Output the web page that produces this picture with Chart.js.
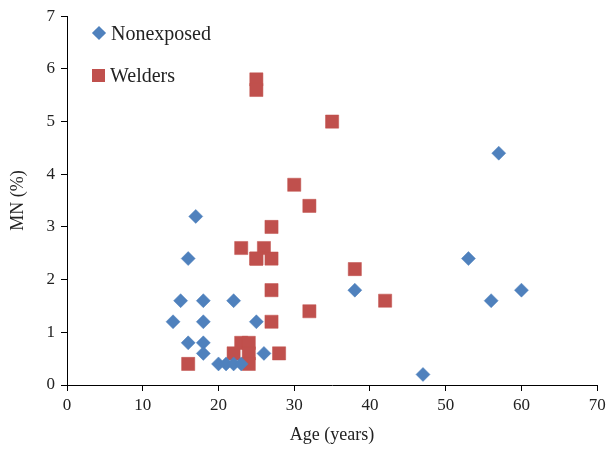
<!DOCTYPE html>
<html>
<head>
<meta charset="utf-8">
<script src="https://cdn.jsdelivr.net/npm/chart.js@4/dist/chart.umd.min.js"></script>
<style>
  html, body { margin: 0; padding: 0; background: #fff; }
  #wrap { position: relative; width: 607px; height: 450px; }
  #legend { position: absolute; left: 92px; top: 18px; font-family: "Liberation Serif", serif; font-size: 20px; color: #222; }
  #legend .item { display: flex; align-items: center; height: 30px; margin-bottom: 12px; }
  #legend .mk { display: inline-block; margin-right: 5px; }
</style>
</head>
<body>
<div id="wrap">
  <canvas id="chart" width="607" height="450"></canvas>
  <div id="legend"></div>
</div>
<script>
// ── data ──
const nonexposedAge = [14, 15, 16, 16, 17, 18, 18, 18, 18, 20, 21, 22, 23, 22, 25, 26, 38, 47, 53, 56, 57, 60];
const nonexposedMN  = [1.2, 1.6, 2.4, 0.8, 3.2, 1.6, 1.2, 0.8, 0.6, 0.4, 0.4, 0.4, 0.4, 1.6, 1.2, 0.6, 1.8, 0.2, 2.4, 1.6, 4.4, 1.8];
const weldersAge = [16, 22, 23, 24, 24, 24, 23, 25, 26, 25, 27, 27, 27, 27, 28, 30, 32, 32, 25, 25, 35, 38, 42];
const weldersMN  = [0.4, 0.6, 0.8, 0.8, 0.6, 0.4, 2.6, 2.4, 2.6, 5.8, 3.0, 2.4, 1.8, 1.2, 0.6, 3.8, 3.4, 1.4, 5.6, 2.4, 5.0, 2.2, 1.6];
const xTicks = [0, 10, 20, 30, 40, 50, 60, 70];
const yTicks = [0, 1, 2, 3, 4, 5, 6, 7];

const BLUE = '#4F81BD', RED = '#C0504D';
const FONT = '"Liberation Serif", serif';

const toPts = (xs, ys) => xs.map((x, i) => ({ x: x, y: ys[i] }));

const datasets = [
  { label: 'Nonexposed', data: toPts(nonexposedAge, nonexposedMN), pointStyle: 'rectRot',
    pointRadius: 7, backgroundColor: BLUE, borderColor: BLUE, borderWidth: 0.5 },
  { label: 'Welders', data: toPts(weldersAge, weldersMN), pointStyle: 'rect',
    pointRadius: 9.3, backgroundColor: RED, borderColor: RED, borderWidth: 0.5 }
];

const axisCommon = {
  grid: { display: true, drawOnChartArea: false, drawTicks: true, tickLength: 6, color: '#000', lineWidth: 1 },
  border: { display: true, color: '#000', width: 1 },
  ticks: { color: '#222', font: { family: FONT, size: 17 } }
};

new Chart(document.getElementById('chart'), {
  type: 'scatter',
  data: { datasets },
  options: {
    responsive: false, animation: false,
    layout: { padding: { top: 16, right: 9, left: 0, bottom: 0 } },
    plugins: { legend: { display: false }, tooltip: { enabled: false } },
    scales: {
      x: {
        ...axisCommon, min: 0, max: 70,
        afterBuildTicks: s => { s.ticks = xTicks.map(v => ({ value: v })); },
        ticks: { ...axisCommon.ticks, padding: 4 },
        title: { display: true, text: 'Age (years)', color: '#222', font: { family: FONT, size: 18 }, padding: { top: 5 } },
        afterFit: s => { s.height = 65; s.paddingRight = 0; s.paddingLeft = 0; }
      },
      y: {
        ...axisCommon, min: 0, max: 7,
        afterBuildTicks: s => { s.ticks = yTicks.map(v => ({ value: v })); },
        ticks: { ...axisCommon.ticks, padding: 6 },
        title: { display: true, text: 'MN (%)', color: '#222', font: { family: FONT, size: 18, lineHeight: 2 }, padding: 0 },
        afterFit: s => { s.width = 67; }
      }
    }
  }
});

// legend inside the plot, built from the datasets
document.getElementById('legend').innerHTML = datasets.map(d => {
  const mk = d.pointStyle === 'rectRot'
    ? `<span class="mk" style="width:10px;height:10px;background:${d.backgroundColor};transform:rotate(45deg);margin-left:2px;margin-right:7px"></span>`
    : `<span class="mk" style="width:13px;height:13px;background:${d.backgroundColor}"></span>`;
  return `<div class="item">${mk}<span>${d.label}</span></div>`;
}).join('');
</script>
</body>
</html>
